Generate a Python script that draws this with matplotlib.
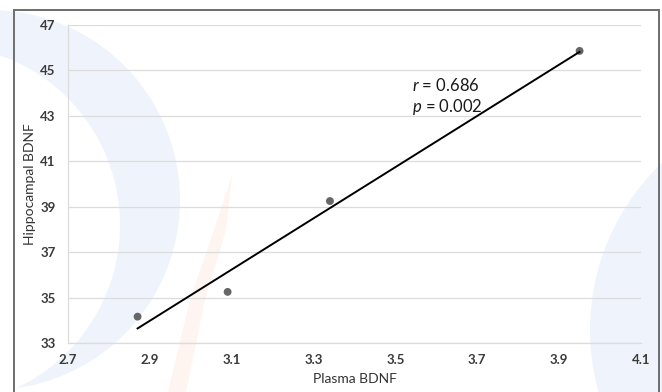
import numpy as np
import matplotlib
matplotlib.use("Agg")
import matplotlib.pyplot as plt
from matplotlib.patches import Ellipse, Polygon, Rectangle

# data
plasma_bdnf = [2.87, 3.09, 3.34, 3.95]
hippo_bdnf = [34.16, 35.25, 39.25, 45.86]
x_ticks = [2.7, 2.9, 3.1, 3.3, 3.5, 3.7, 3.9, 4.1]
y_ticks = [33, 35, 37, 39, 41, 43, 45, 47]
r_text = "0.686"
p_text = "0.002"

W, H = 662, 392
plt.rcParams['font.family'] = ['Lato', 'DejaVu Sans']
plt.rcParams['mathtext.fontset'] = 'custom'
plt.rcParams['mathtext.it'] = 'Lato:italic'
plt.rcParams['mathtext.rm'] = 'Lato'

fig = plt.figure(figsize=(W / 100, H / 100), dpi=100)
fig.patch.set_facecolor('white')


def px(x, y):
	"""pixel (from top-left) -> figure fraction"""
	return x / W, 1 - y / H


def circle(cx, cy, r, color, z):
	c = Ellipse(px(cx, cy), 2 * r / W, 2 * r / H, transform=fig.transFigure,
				facecolor=color, edgecolor='none', zorder=z)
	fig.add_artist(c)


# faint watermark behind the chart
circle(-10, 200, 190, '#eff4fc', -5)
circle(-60, 225, 180, 'white', -4)
circle(820, 330, 230, '#eff4fc', -5)
stroke = [(232, 175), (226, 230), (205, 300), (186, 392), (168, 392), (190, 300), (214, 230)]
fig.add_artist(Polygon([px(*p) for p in stroke], closed=True, transform=fig.transFigure,
					   facecolor='#fef4f0', edgecolor='none', zorder=-3))

# outer frame, cut at the bottom of the image
fig.add_artist(Rectangle(px(14, 420), 645 / W, 410 / H, transform=fig.transFigure,
						 fill=False, edgecolor='#6e6e6e', lw=1.4, clip_on=False, zorder=5))

ax = fig.add_axes([68 / W, 1 - 343 / H, (641 - 68) / W, (343 - 25) / H])
ax.patch.set_alpha(0)

ax.scatter(plasma_bdnf, hippo_bdnf, s=32, color='#666666', zorder=3, edgecolors='none')

slope, intercept = np.polyfit(plasma_bdnf, hippo_bdnf, 1)
fit_x = np.array([min(plasma_bdnf), max(plasma_bdnf)])
ax.plot(fit_x, slope * fit_x + intercept, color='black', lw=1.4, zorder=4)

ax.text(3.54, 44.35, r"$\it{r}$ = " + r_text, fontsize=12, color='#1a1a1a', va='center')
ax.text(3.54, 43.4, r"$\it{p}$ = " + p_text, fontsize=12, color='#1a1a1a', va='center')

ax.set_xlim(x_ticks[0], x_ticks[-1])
ax.set_ylim(y_ticks[0], y_ticks[-1])
ax.set_xticks(x_ticks)
ax.set_yticks(y_ticks)
ax.set_xticklabels([f"{v:.1f}" for v in x_ticks], fontweight='bold')
ax.set_yticklabels([str(v) for v in y_ticks], fontweight='bold')
ax.tick_params(length=0, labelsize=9.5, labelcolor='#3a3a3a')
ax.tick_params(axis='x', pad=8)
ax.tick_params(axis='y', pad=9)
ax.grid(axis='y', color='#dcdcdc', lw=0.9)
ax.set_axisbelow(True)
for side in ['top', 'right']:
	ax.spines[side].set_visible(False)
for side in ['left', 'bottom']:
	ax.spines[side].set_color('#dcdcdc')
	ax.spines[side].set_linewidth(0.9)

ax.set_xlabel('Plasma BDNF', fontsize=10, color='#333333', labelpad=5)
ax.set_ylabel('Hippocampal BDNF', fontsize=10, color='#333333', labelpad=3)

fig.savefig('out.png', dpi=100)
